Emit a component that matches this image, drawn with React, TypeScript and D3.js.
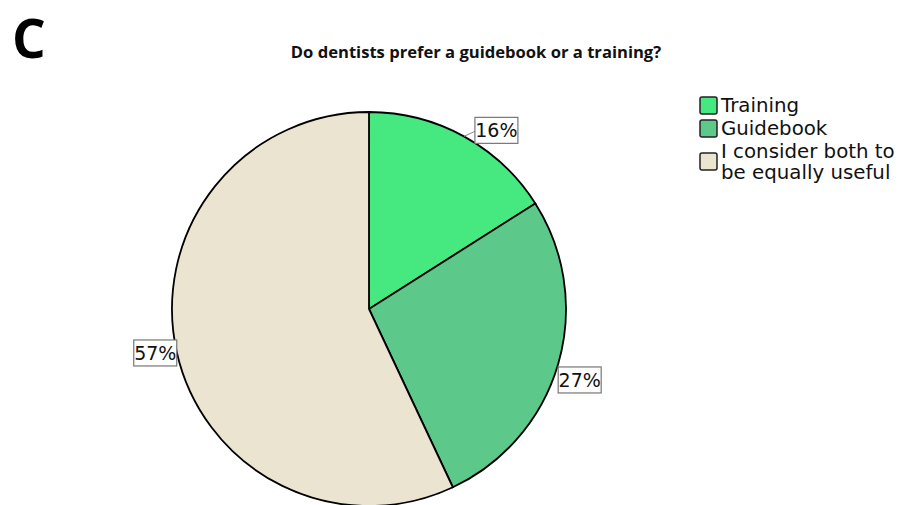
import React from "react";
import * as d3 from "d3";

const categories = ["Training", "Guidebook", "I consider both to be equally useful"];
const values = [16, 27, 57];
const labels = ["16%", "27%", "57%"];
const legendLines = [["Training"], ["Guidebook"], ["I consider both to", "be equally useful"]];
const colors = ["#45e97f", "#5cc98b", "#ebe4d0"];
const title = "Do dentists prefer a guidebook or a training?";

const W = 906, H = 505;
const cx = 369, cy = 309, R = 197;
// label box offsets relative to edge point at slice mid-angle
const labelOffsets = [[11, -6], [0, 16], [0, 1]];

export default function App() {
  const pie = d3.pie<number>().sort(null).value((d) => d);
  const arcs = pie(values);
  const arc = d3.arc<d3.PieArcDatum<number>>().innerRadius(0).outerRadius(R);
  return (
    <svg width={W} height={H} style={{ position: "absolute", left: 0, top: 0, background: "#fff" }}>
      <text x={12} y={58} fontFamily="'Open Sans', 'DejaVu Sans', sans-serif" fontWeight={700} fontSize={53} fill="#000">C</text>
      <text x={476} y={58} textAnchor="middle" fontFamily="'Open Sans', sans-serif" fontWeight={700} fontSize={16.6} fill="#111">{title}</text>
      <g transform={`translate(${cx},${cy})`}>
        {arcs.map((a, i) => (
          <path key={i} d={arc(a) || ""} fill={colors[i]} stroke="#000" strokeWidth={1.8} />
        ))}
      </g>
      {arcs.map((a, i) => {
        const mid = (a.startAngle + a.endAngle) / 2;
        const ex = cx + R * Math.sin(mid);
        const ey = cy - R * Math.cos(mid);
        const right = Math.sin(mid) > 0;
        const bw = 43, bh = 26;
        const [ox, oy] = labelOffsets[i];
        const bx = right ? ex + ox : ex - ox - bw;
        const by = ey + oy - bh / 2;
        const lx = right ? bx : bx + bw;
        return (
          <g key={i}>
            {ox !== 0 && <line x1={ex} y1={ey} x2={lx} y2={by + bh / 2 + 1} stroke="#888" strokeWidth={1} />}
            <rect x={bx} y={by} width={bw} height={bh} fill="#fff" stroke="#777" strokeWidth={1.2} />
            <text x={bx + bw / 2} y={by + bh / 2 + 7} textAnchor="middle" fontFamily="'DejaVu Sans', sans-serif" fontSize={19} fill="#111">{labels[i]}</text>
          </g>
        );
      })}
      <g fontFamily="'DejaVu Sans', sans-serif" fontSize={19.8} fill="#111">
        {legendLines.map((lines, i) => {
          const ys = [97, 120, 153][i];
          return (
            <g key={i}>
              <rect x={700} y={ys} width={17} height={17} rx={2} fill={colors[i]} stroke="#222" strokeWidth={1.5} />
              {lines.map((t, j) => (
                <text key={j} x={721} y={(i === 2 ? 143 : ys) + 15 + j * 21}>{t}</text>
              ))}
            </g>
          );
        })}
      </g>
    </svg>
  );
}
